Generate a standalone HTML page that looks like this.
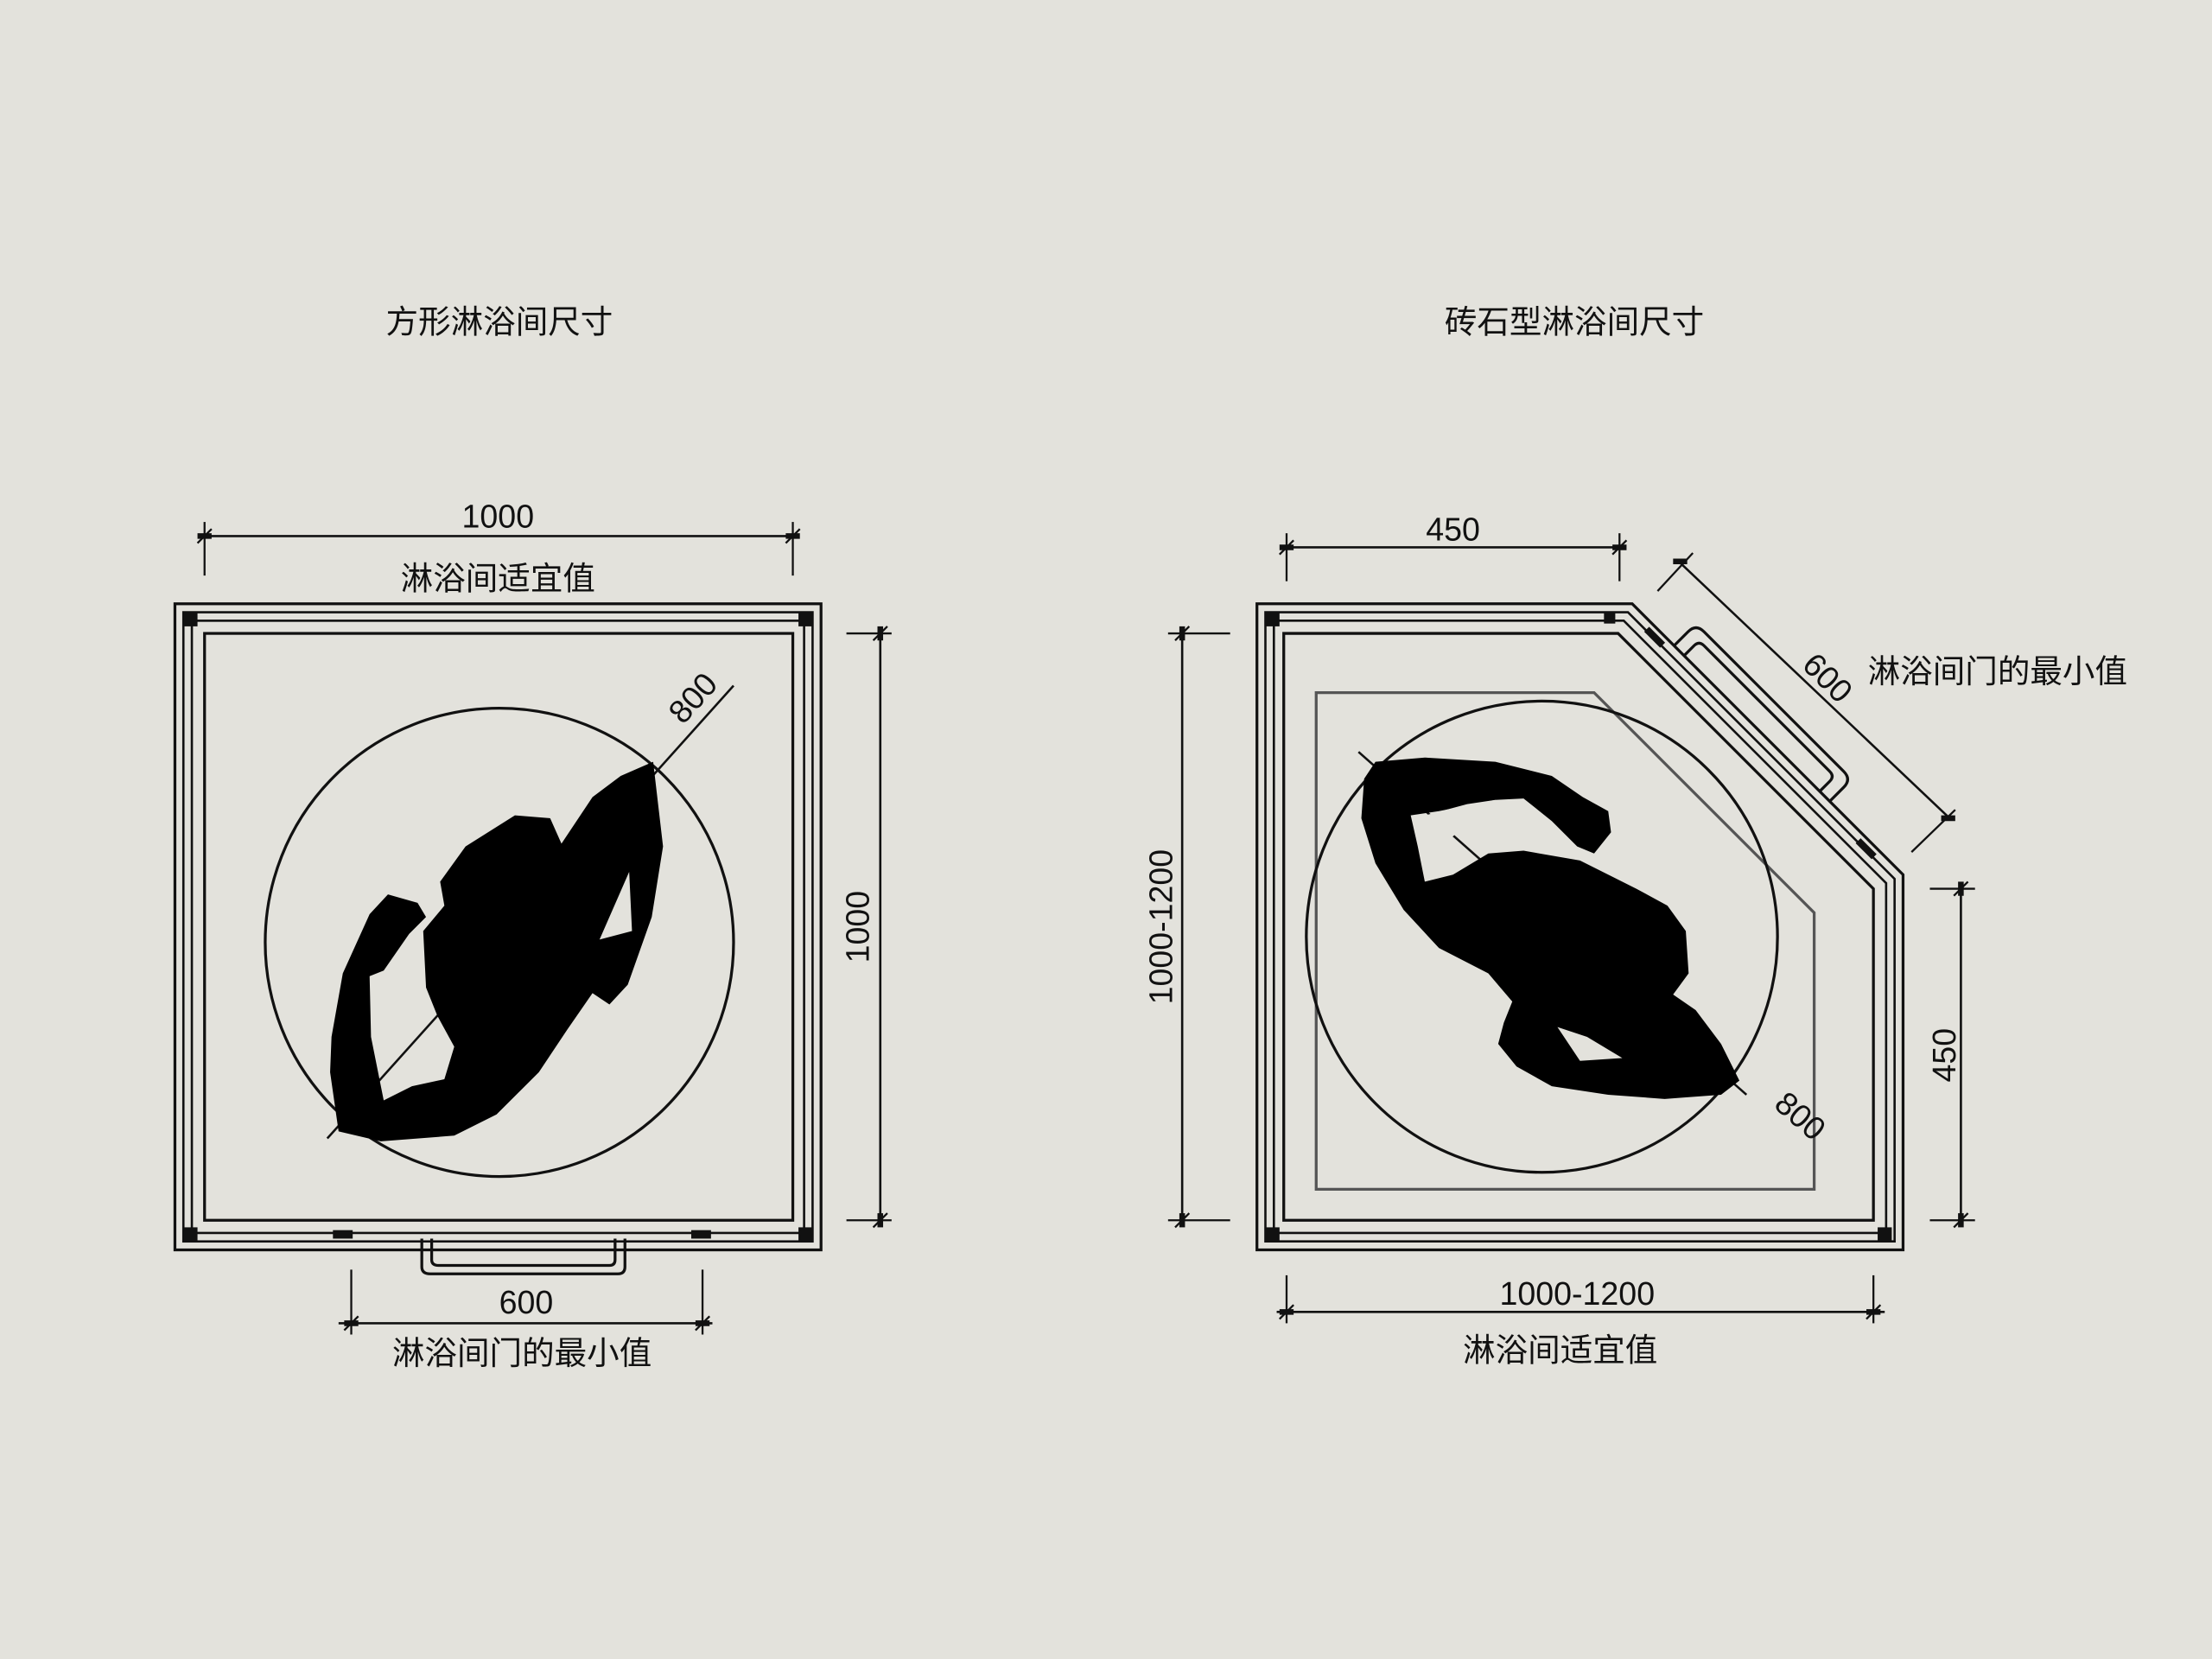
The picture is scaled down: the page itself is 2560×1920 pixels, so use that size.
<!DOCTYPE html>
<html><head><meta charset="utf-8"><style>
html,body{margin:0;padding:0;background:#e3e2dc}
svg{display:block}
text{font-family:"Liberation Sans","Noto Sans CJK SC",sans-serif;fill:#111}
</style></head><body>
<svg width="2560" height="1920" viewBox="0 0 1568 1176" xmlns="http://www.w3.org/2000/svg">
<rect width="1568" height="1176" fill="#e3e2dc"/>
<g font-size="23" text-anchor="middle">
<text x="354" y="236">方形淋浴间尺寸</text>
<text x="1116" y="236">砖石型淋浴间尺寸</text>
</g>
<g fill="none" stroke="#111" stroke-width="2">
<rect x="124" y="428" width="458" height="458"/>
<rect x="130" y="434" width="446" height="446" stroke-width="1.6"/>
<rect x="136" y="440" width="434" height="434" stroke-width="1.6"/>
<rect x="145" y="449" width="417" height="416"/>
<circle cx="354" cy="668" r="166"/>
<line x1="232" y1="807" x2="520" y2="486" stroke-width="1.6"/>
<path d="M299 878 V898 Q299 903 305 903 H438 Q443 903 443 898 V878 M306 878 V893 Q306 897 311 897 H432 Q436 897 436 893 V878"/>
<line x1="145" y1="380" x2="562" y2="380" stroke-width="1.6"/>
<line x1="145" y1="370" x2="145" y2="408" stroke-width="1.4"/>
<line x1="562" y1="370" x2="562" y2="408" stroke-width="1.4"/>
<line x1="624" y1="449" x2="624" y2="865" stroke-width="1.6"/>
<line x1="600" y1="449" x2="632" y2="449" stroke-width="1.4"/>
<line x1="600" y1="865" x2="632" y2="865" stroke-width="1.4"/>
<line x1="240" y1="938" x2="505" y2="938" stroke-width="1.6"/>
<line x1="249" y1="900" x2="249" y2="946" stroke-width="1.4"/>
<line x1="498" y1="900" x2="498" y2="946" stroke-width="1.4"/>
<polygon points="891,428 1157,428 1349,620 1349,886 891,886"/>
<polygon points="897,434 1154,434 1343,623 1343,880 897,880" stroke-width="1.6"/>
<polygon points="903,440 1151,440 1337,626 1337,874 903,874" stroke-width="1.6"/>
<polygon points="910,449 1147,449 1328,630 1328,865 910,865"/>
<polygon points="933,491 1130,491 1286,647 1286,843 933,843" stroke="#555"/>
<circle cx="1093" cy="664" r="167"/>
<line x1="963" y1="533" x2="1238" y2="776" stroke-width="1.6"/>
<g transform="translate(1157 428) rotate(45)">
<path d="M42 0 V-14 Q42 -22 50 -22 H190 Q198 -22 198 -14 V0 M52 0 V-10 Q52 -15 57 -15 H183 Q188 -15 188 -10 V0"/>
</g>
<line x1="912" y1="388" x2="1148" y2="388" stroke-width="1.6"/>
<line x1="912" y1="378" x2="912" y2="412" stroke-width="1.4"/>
<line x1="1148" y1="378" x2="1148" y2="412" stroke-width="1.4"/>
<line x1="838" y1="449" x2="838" y2="865" stroke-width="1.6"/>
<line x1="828" y1="449" x2="872" y2="449" stroke-width="1.4"/>
<line x1="828" y1="865" x2="872" y2="865" stroke-width="1.4"/>
<line x1="1190" y1="398" x2="1382" y2="580" stroke-width="1.6"/>
<line x1="1175" y1="419" x2="1200" y2="392" stroke-width="1.4"/>
<line x1="1355" y1="604" x2="1386" y2="574" stroke-width="1.4"/>
<line x1="1390" y1="630" x2="1390" y2="865" stroke-width="1.6"/>
<line x1="1368" y1="630" x2="1400" y2="630" stroke-width="1.4"/>
<line x1="1368" y1="865" x2="1400" y2="865" stroke-width="1.4"/>
<line x1="905" y1="930" x2="1336" y2="930" stroke-width="1.6"/>
<line x1="912" y1="904" x2="912" y2="938" stroke-width="1.4"/>
<line x1="1328" y1="904" x2="1328" y2="938" stroke-width="1.4"/>
</g>
<g stroke="#111" stroke-width="4">
<line x1="140" y1="380" x2="150" y2="380"/><line x1="557" y1="380" x2="567" y2="380"/>
<line x1="624" y1="444" x2="624" y2="454"/><line x1="624" y1="860" x2="624" y2="870"/>
<line x1="244" y1="938" x2="254" y2="938"/><line x1="493" y1="938" x2="503" y2="938"/>
<line x1="907" y1="388" x2="917" y2="388"/><line x1="1143" y1="388" x2="1153" y2="388"/>
<line x1="838" y1="444" x2="838" y2="454"/><line x1="838" y1="860" x2="838" y2="870"/>
<line x1="1390" y1="625" x2="1390" y2="635"/><line x1="1390" y1="860" x2="1390" y2="870"/>
<line x1="907" y1="930" x2="917" y2="930"/><line x1="1323" y1="930" x2="1333" y2="930"/>
<line x1="1186" y1="398" x2="1196" y2="398"/><line x1="1376" y1="580" x2="1386" y2="580"/>
</g>
<g stroke="#111" stroke-width="1.4">
<line x1="140" y1="385" x2="150" y2="375"/><line x1="557" y1="385" x2="567" y2="375"/>
<line x1="619" y1="454" x2="629" y2="444"/><line x1="619" y1="870" x2="629" y2="860"/>
<line x1="244" y1="943" x2="254" y2="933"/><line x1="493" y1="943" x2="503" y2="933"/>
<line x1="907" y1="393" x2="917" y2="383"/><line x1="1143" y1="393" x2="1153" y2="383"/>
<line x1="833" y1="454" x2="843" y2="444"/><line x1="833" y1="870" x2="843" y2="860"/>
<line x1="1385" y1="635" x2="1395" y2="625"/><line x1="1385" y1="870" x2="1395" y2="860"/>
<line x1="907" y1="935" x2="917" y2="925"/><line x1="1323" y1="935" x2="1333" y2="925"/>
</g>
<g fill="#111">
<rect x="130" y="434" width="10" height="10"/><rect x="566" y="434" width="10" height="10"/>
<rect x="130" y="870" width="10" height="10"/><rect x="566" y="870" width="10" height="10"/>
<rect x="236" y="872" width="14" height="6"/><rect x="490" y="872" width="14" height="6"/>
<rect x="897" y="434" width="10" height="10"/><rect x="897" y="870" width="10" height="10"/>
<rect x="1331" y="870" width="10" height="10"/>
<rect x="1137" y="434" width="8" height="8"/>
<g transform="translate(1157 428) rotate(45)"><rect x="20" y="3" width="16" height="5"/><rect x="232" y="3" width="16" height="5"/></g>
</g>
<g fill="#000">
<polygon points="463,540 470,600 462,650 445,698 432,712 420,704 402,730 382,760 352,790 322,805 270,809 240,802 234,760 235,735 243,690 262,648 275,634 296,640 302,650 290,662 272,688 262,692 263,735 272,780 292,770 315,765 322,742 310,720 302,700 300,660 315,642 312,625 330,600 365,578 390,580 398,598 420,565 440,550"/>
<polygon points="975,540 1010,537 1060,540 1100,550 1122,565 1140,575 1142,590 1130,605 1118,600 1100,582 1080,566 1060,567 1020,575 1000,578 1005,600 1010,625 1030,620 1055,605 1080,603 1120,610 1160,630 1182,642 1195,660 1197,690 1186,705 1202,716 1220,740 1233,766 1220,776 1180,779 1140,776 1100,770 1075,756 1062,740 1066,725 1072,710 1055,690 1020,672 995,645 975,612 965,580 967,552"/>
</g>
<g fill="#e3e2dc">
<polygon points="446,618 448,660 425,666"/>
<polygon points="1104,728 1120,752 1150,750 1125,735"/>
<polygon points="1003,580 1040,570 1060,567 1010,610"/>
</g>
<g font-size="23" text-anchor="middle">
<text x="353" y="374">1000</text>
<text x="353" y="418">淋浴间适宜值</text>
<text x="373" y="931">600</text>
<text x="370" y="967">淋浴间门的最小值</text>
<text x="1030" y="383">450</text>
<text x="1118" y="925">1000-1200</text>
<text x="1106" y="965">淋浴间适宜值</text>
<text x="1416" y="484">淋浴间门的最小值</text>
<text transform="translate(616,657) rotate(-90)">1000</text>
<text transform="translate(831,657) rotate(-90)">1000-1200</text>
<text transform="translate(1386,748) rotate(-90)">450</text>
<text transform="translate(497,500) rotate(-48)">800</text>
<text transform="translate(1271,797) rotate(41)">800</text>
<text transform="translate(1290,486) rotate(45)">600</text>
</g>
</svg>
</body></html>
